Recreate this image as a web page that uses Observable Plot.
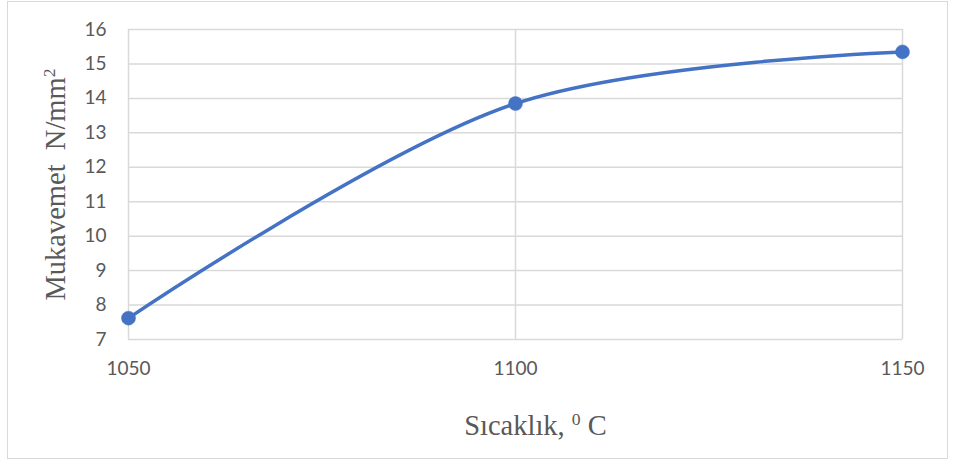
<!DOCTYPE html>
<html>
<head>
<meta charset="utf-8">
<script src="https://cdn.jsdelivr.net/npm/d3@7"></script>
<script src="https://cdn.jsdelivr.net/npm/@observablehq/plot@0.6"></script>
<style>
  body { margin: 0; background: #fff; }
  #wrap { position: relative; width: 953px; height: 463px; }
  #box { position: absolute; left: 7px; top: 1px; width: 939px; height: 456px; border: 1.5px solid #d9d9d9; pointer-events: none; }
</style>
</head>
<body>
<div id="wrap"><div id="box"></div></div>
<script>
const temps = [1050, 1100, 1150];
const strength = [7.62, 13.85, 15.35];
const yTicks = [7, 8, 9, 10, 11, 12, 13, 14, 15, 16];
const xTicks = [1050, 1100, 1150];
// [main text, superscript, rest]
const xTitleParts = ["Sıcaklık, ", "0", " C"];
const yTitleParts = ["Mukavemet  N/mm", "2", ""];

const data = temps.map((t, i) => ({t, s: strength[i]}));
const grid = "#d9d9d9";
const blue = "#4472C4";

const chart = Plot.plot({
  width: 953,
  height: 463,
  marginLeft: 128,
  marginRight: 51,
  marginTop: 29,
  marginBottom: 124,
  style: {fontFamily: "Lato, sans-serif", background: "transparent", overflow: "visible"},
  x: {domain: [1050, 1150]},
  y: {domain: [7, 16]},
  marks: [
    Plot.gridY(yTicks, {stroke: grid, strokeOpacity: 1, strokeWidth: 1.5}),
    Plot.gridX(xTicks, {stroke: grid, strokeOpacity: 1, strokeWidth: 1.5}),
    Plot.axisY(yTicks, {tickSize: 0, tickPadding: 22, fontSize: 19, fill: "#595959", label: null}),
    Plot.axisX(xTicks, {tickSize: 0, tickPadding: 22, fontSize: 19, fill: "#595959", label: null, tickFormat: d => String(d)}),
    Plot.line(data, {x: "t", y: "s", stroke: blue, strokeWidth: 3.5, curve: "catmull-rom"}),
    Plot.dot(data, {x: "t", y: "s", fill: blue, r: 7, stroke: blue, strokeWidth: 0.5}),
    Plot.text([xTitleParts.join("")], {frameAnchor: "bottom", dx: 20, dy: 86, text: d => d, fontFamily: "Liberation Serif, serif", fontSize: 28.5, fill: "#595959", lineAnchor: "middle", textAnchor: "middle", className: "xtitle"}),
    Plot.text([yTitleParts.join("")], {frameAnchor: "left", dx: -73, rotate: -90, text: d => d, fontFamily: "Liberation Serif, serif", fontSize: 28.5, fill: "#595959", lineAnchor: "middle", textAnchor: "middle", className: "ytitle"})
  ]
});

// render superscripts as tspans
function superscript(sel, parts) {
  const t = d3.select(chart).select(sel).select("text");
  t.text(null);
  t.append("tspan").text(parts[0]);
  t.append("tspan").attr("font-size", "62%").attr("baseline-shift", "super").text(parts[1]);
  if (parts[2]) t.append("tspan").text(parts[2]);
}
superscript(".xtitle", xTitleParts);
superscript(".ytitle", yTitleParts);

document.getElementById("wrap").prepend(chart);
chart.style.position = "absolute";
chart.style.left = "0";
chart.style.top = "0";
</script>
</body>
</html>
